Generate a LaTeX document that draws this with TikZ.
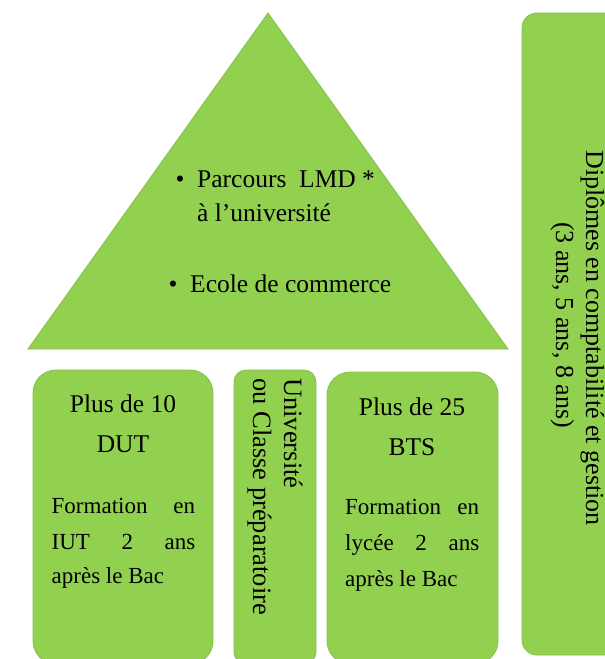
\documentclass[tikz,border=0pt]{standalone}
\usepackage{fontspec}
\setmainfont{Liberation Serif}
\definecolor{leaf}{RGB}{146,208,80}
\definecolor{leafline}{RGB}{134,192,72}
\begin{document}
\begin{tikzpicture}[x=1pt,y=-1pt]
	\tikzset{block/.style = {fill=leaf,draw=leafline,line width=.8pt}}
	\tikzset{txt/.style = {inner sep=0pt,font=\fontsize{25.5}{31}\selectfont}}
	\tikzset{body/.style = {inner sep=0pt,font=\fontsize{23}{28}\selectfont,anchor=base west}}
	\clip (0,0) rectangle (605,659);
	% roof and the four pillars
	\draw[block] (268,13) -- (508,349) -- (28,349) -- cycle;
	\draw[block,rounded corners=23pt] (33,370) rectangle (213,664);
	\draw[block,rounded corners=12pt] (234,370) rectangle (316,664);
	\draw[block,rounded corners=23pt] (327,372) rectangle (498,664);
	\draw[block,rounded corners=15pt] (522,13) rectangle (642,655);
	% roof text
	\node[txt,anchor=base] (b1) at (180,187) {\textbullet};
	\node[txt,anchor=base west] (lmd) at (197,187) {Parcours\ \ LMD *};
	\node[txt,anchor=base west] (univ) at (197,221) {à l’université};
	\node[txt,anchor=base] (b2) at (173,292) {\textbullet};
	\node[txt,anchor=base west] (ecole) at (190,292) {Ecole de commerce};
	% DUT
	\node[txt,anchor=base] (dut1) at (123,412) {Plus de 10};
	\node[txt,anchor=base] (dut2) at (123,452) {DUT};
	\node[body] (dutA) at (51.5,513) {\makebox[143.5pt][s]{Formation en}};
	\node[body] (dutB) at (51.5,549) {\makebox[143.5pt][s]{IUT 2 ans}};
	\node[body] (dutC) at (51.5,583) {après le Bac};
	% university
	\node[txt,font=\fontsize{26.5}{31}\selectfont,rotate=-90,anchor=base west] (uni1) at (284,378) {Université};
	\node[txt,font=\fontsize{26.5}{31}\selectfont,rotate=-90,anchor=base west] (uni2) at (253,378) {ou Classe préparatoire};
	% BTS
	\node[txt,anchor=base] (bts1) at (412,415) {Plus de 25};
	\node[txt,anchor=base] (bts2) at (412,455) {BTS};
	\node[body] (btsA) at (345,514) {\makebox[134pt][s]{Formation en}};
	\node[body] (btsB) at (345,550) {\makebox[134pt][s]{lycée 2 ans}};
	\node[body] (btsC) at (345,586) {après le Bac};
	% diplomas
	\node[txt,font=\fontsize{26}{31}\selectfont,rotate=-90,anchor=base] (dip1) at (586,338) {Diplômes en comptabilité et gestion};
	\node[txt,font=\fontsize{26}{31}\selectfont,rotate=-90,anchor=base] (dip2) at (556,325) {(3 ans, 5 ans, 8 ans)};
\end{tikzpicture}
\end{document}
